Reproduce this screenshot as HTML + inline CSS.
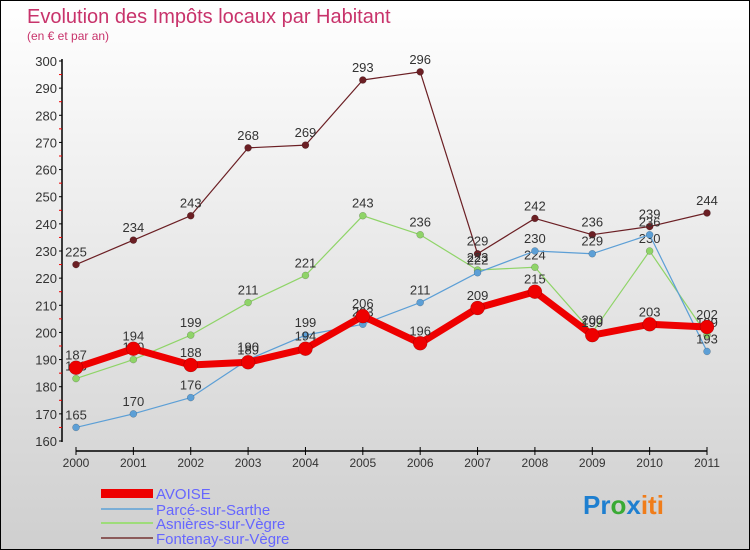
<!DOCTYPE html>
<html><head><meta charset="utf-8"><style>
body{margin:0}
#c{width:748px;height:548px;border:1px solid #000;background:linear-gradient(#ffffff,#cfcfcf);position:relative;font-family:"Liberation Sans",sans-serif}
</style></head><body>
<div id="c">
<svg id="s" width="748" height="548" style="position:absolute;left:0;top:0">
<text x="26" y="22" font-size="20" fill="#c8336b">Evolution des Impôts locaux par Habitant</text>
<text x="26" y="39" font-size="12" fill="#c8336b">(en € et par an)</text>
<g id="axes"></g><g id="series"></g>
<g>
<rect x="100" y="488" width="52" height="9" fill="#e00"/>
<text x="155" y="498" font-size="15" fill="#6666ff">AVOISE</text>
<line x1="100" y1="508" x2="152" y2="508" stroke="#7aaed6" stroke-width="2"/>
<text x="155" y="514" font-size="15" fill="#6666ff">Parcé-sur-Sarthe</text>
<line x1="100" y1="522" x2="152" y2="522" stroke="#9edc7a" stroke-width="2"/>
<text x="155" y="528" font-size="15" fill="#6666ff">Asnières-sur-Vègre</text>
<line x1="100" y1="537" x2="152" y2="537" stroke="#8b5a5a" stroke-width="2"/>
<text x="155" y="543" font-size="15" fill="#6666ff">Fontenay-sur-Vègre</text>
</g>
<text x="582" y="513" font-size="26" font-weight="bold"><tspan fill="#1e7fd0">Pr</tspan><tspan fill="#3aaa35">o</tspan><tspan fill="#1e7fd0">x</tspan><tspan fill="#f07d1a">iti</tspan></text>
</svg></div>
<script>
const years=[2000,2001,2002,2003,2004,2005,2006,2007,2008,2009,2010,2011];
const avoise=[187,194,188,189,194,206,196,209,215,199,203,202];
const parce=[165,170,176,190,199,203,211,222,230,229,236,193];
const asnieres=[183,190,199,211,221,243,236,223,224,200,230,199];
const fontenay=[225,234,243,268,269,293,296,229,242,236,239,244];
const yTicks=[160,170,180,190,200,210,220,230,240,250,260,270,280,290,300];
const NS="http://www.w3.org/2000/svg";
const X=i=>75+i*(706-75)/11, Y=v=>440-(v-160)*380/140;
function mk(tag,a,p){const e=document.createElementNS(NS,tag);for(const k in a)e.setAttribute(k,a[k]);p.appendChild(e);return e;}
const ax=document.getElementById('axes');
let l=mk('line',{x1:61,y1:58,x2:61,y2:441,stroke:'#000','stroke-width':1.5},ax);


l=mk('line',{x1:75,y1:450,x2:706,y2:450,stroke:'#000','stroke-width':1.5},ax);


yTicks.forEach((v,i)=>{mk('line',{x1:58,y1:Y(v),x2:61,y2:Y(v),stroke:'#000'},ax);
 if(i<yTicks.length-1)mk('line',{x1:58,y1:Y(v+5),x2:61,y2:Y(v+5),stroke:'#e00'},ax);
 const t=mk('text',{x:56,y:Y(v)+5,'font-size':13,fill:'#333','text-anchor':'end'},ax);t.textContent=v;
 
 });
years.forEach((y,i)=>{mk('line',{x1:X(i),y1:446,x2:X(i),y2:454,stroke:'#000'},ax);
 const t=mk('text',{x:X(i),y:466,'font-size':12,fill:'#333','text-anchor':'middle'},ax);t.textContent=y;
 
 });
const sg=document.getElementById('series');
function draw(data,color,w,r,name){
 const g=mk('g',{},sg);
 
 
 mk('polyline',{points:data.map((v,i)=>X(i)+','+Y(v)).join(' '),fill:'none',stroke:color,'stroke-width':w,'stroke-linejoin':'round'},g);
 data.forEach((v,i)=>{const c=mk('circle',{cx:X(i),cy:Y(v),r:r,fill:color,stroke:'rgba(0,0,0,0.3)','stroke-width':0.5},g);
  
  
  const t=mk('text',{x:X(i),y:Y(v)-8,'font-size':13,fill:'#333','text-anchor':'middle'},g);t.textContent=v;
  
  });
}
draw(fontenay,'#6b1f24',1.2,3.5,'fontenay');
draw(asnieres,'#8fd468',1.2,3.5,'asnieres');
draw(parce,'#5c9fd6',1.2,3.5,'parce');
draw(avoise,'#ee0000',7,7,'avoise');
</script>
</body></html>
